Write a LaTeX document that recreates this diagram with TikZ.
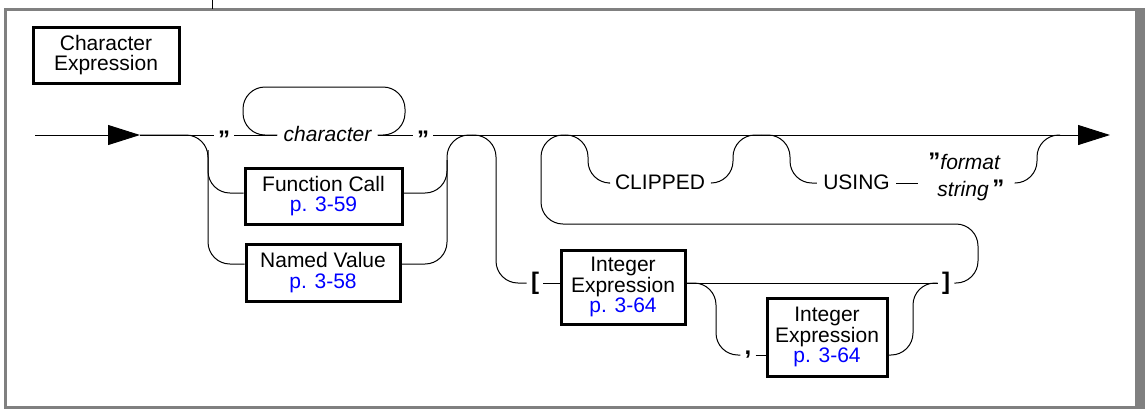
\documentclass[tikz,border=0pt]{standalone}
\usepackage{fontspec}
\setmainfont{Liberation Sans}
\usepackage{xcolor}
\usetikzlibrary{arrows.meta, positioning}
\newcommand{\railsize}{\fontsize{10.5}{10.4}\selectfont}

\begin{document}
\begin{tikzpicture}[
    x=0.5pt, y=-0.5pt,
    font=\railsize,
    box/.style={draw, line width=1.5pt, inner sep=0pt, align=center},
    lbl/.style={inner sep=3pt, text height=1.5ex, text depth=.25ex},
    punct/.style={lbl, inner sep=2pt, font=\fontsize{12}{12}\selectfont\bfseries},
    rail/.style={line width=0.5pt, rounded corners=11pt},
    arr/.style={rail, -{Triangle[length=16pt, width=10pt]}}
  ]
  \useasboundingbox (0,0) rectangle (1145,409);
  % frame
  \draw[gray, line width=1.5pt] (5,9.5) rectangle (1138,407.5);
  \fill[gray] (1135,8) rectangle (1145,409);
  \coordinate (mtop) at (212,0);
  \coordinate (mbot) at (212,8.5);
  \draw[line width=0.5pt] (mtop) -- (mbot);

  \node[box, minimum width=73pt, minimum height=28pt] (charexp) at (106,55) {Character\\Expression};

  % main line
  \coordinate (entry) at (35,135);
  \coordinate (a1)    at (140,135);
  \node[punct] (q1)  at (224,135) {\raisebox{-.25em}{"}};
  \node[lbl, font=\railsize\itshape] (chr) at (327.5,135) {character};
  \node[punct] (q2)  at (423,135) {\raisebox{-.25em}{"}};
  \coordinate (exit)  at (1110,135);
  \coordinate (lpR)   at (405,87);
  \coordinate (lpL)   at (243,87);

  % alternatives
  \node[box, minimum width=78.5pt, minimum height=28pt] (fcall) at (323.5,196)
       {Function Call\\\textcolor{blue}{p. 3-59}};
  \node[box, minimum width=77pt, minimum height=28.5pt] (nval) at (323,272.5)
       {Named Value\\\textcolor{blue}{p. 3-58}};
  \coordinate (altL)  at (208,200);
  \coordinate (altL0) at (208,150);
  \coordinate (altRf) at (447,160);
  \coordinate (altT)  at (447,135);
  \coordinate (j1)    at (472,135);

  % CLIPPED and USING
  \coordinate (j2)   at (565,135);
  \coordinate (clT1) at (588,135);
  \node[lbl] (clip) at (660,183) {CLIPPED};
  \coordinate (clT2) at (733,135);
  \coordinate (j3)   at (761,135);
  \coordinate (usT1) at (790,135);
  \node[lbl] (using) at (856.5,183) {USING};
  \node[anchor=west, inner xsep=5pt, inner ysep=0pt, align=left,
        font=\fontsize{10.5}{13.5}\selectfont\itshape] (fmt) at (918,177)
       {{\upshape\bfseries\fontsize{12}{13.5}\selectfont "}format\\
        \hspace{4.5pt}string\,{\upshape\bfseries\fontsize{12}{13.5}\selectfont "}};
  \coordinate (usT2) at (1037,135);
  \coordinate (j4)   at (1060,135);

  % subscript
  \coordinate (brV) at (496,200);
  \node[punct] (lb) at (535,283) {[};
  \node[box, minimum width=62pt, minimum height=37pt] (ie1) at (623,287)
       {Integer\\Expression\\\textcolor{blue}{p. 3-64}};
  \node[punct] (rb) at (946,283) {]};
  \coordinate (cmT1) at (716,283);
  \node[punct] (cm) at (748,355) {\raisebox{.3em}{,}};
  \node[box, minimum width=60pt, minimum height=39pt] (ie2) at (827,337)
       {Integer\\Expression\\\textcolor{blue}{p. 3-64}};
  \coordinate (cmT2) at (913,283);
  \coordinate (bk1)  at (978,224);
  \coordinate (bk2)  at (541,180);

  \draw[arr]  (entry) -- (a1);
  \draw[rail] (a1) -- (q1);
  \draw[rail] (q1) -- (chr);
  \draw[rail] (chr) -- (q2);
  \draw[arr]  (q2) -- (exit);
  \draw[rail] (chr.east) -| (lpR) -- (lpL) |- (chr.west);

  \draw[rail] (a1) -| (altL) |- ([yshift=4.25pt]nval.west);
  \draw[rail] (altL0) |- ([yshift=1.5pt]fcall.west);
  \draw[rail] ([yshift=1.5pt]fcall.east) -| (altRf);
  \draw[rail] ([yshift=4.25pt]nval.east) -| (altT) -- (j1);

  \draw[rail] (j1) -| (brV) |- (lb.west);
  \draw[rail] (lb.east) -- (lb -| ie1.west);
  \draw[rail] (ie1.east |- lb) -- (rb.west);
  \draw[rail] (ie1.east |- lb) -- (cmT1) |- (cm.west);
  \draw[rail] (cm.east) -- (cm -| ie2.west);
  \draw[rail] (ie2.east |- cm) -| (cmT2) -- (rb.west);
  \draw[rail] (rb.east) -| (bk1) -| (bk2) |- (j2);

  \draw[rail] (j2) -- (clT1) |- (clip.west);
  \draw[rail] (clip.east) -| (clT2) -- (j3);
  \draw[rail] (j3) -- (usT1) |- (using.west);
  \draw[rail] (using.east) -- (using -| fmt.west);
  \draw[rail] (fmt.east |- using) -| (usT2) -- (j4);
\end{tikzpicture}
\end{document}
